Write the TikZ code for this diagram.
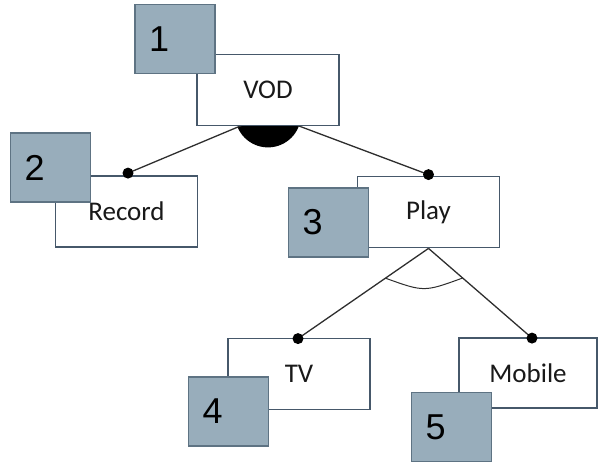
\documentclass[tikz,border=0pt]{standalone}
\usepackage{fontspec}
\setmainfont{Carlito}
\newfontfamily\numfont{Liberation Sans}
\usetikzlibrary{calc}
\pgfdeclarelayer{bg}
\pgfsetlayers{bg,main}
\definecolor{boxedge}{HTML}{46586A}
\definecolor{tagfill}{HTML}{98ADBB}
\definecolor{tagedge}{HTML}{5E7383}
\definecolor{wire}{HTML}{2E2E2E}
\begin{document}
\begin{tikzpicture}[x=1pt,y=-1pt,
  feature/.style={draw=boxedge, line width=1.8pt, fill=white, inner sep=0pt,
    minimum width=142pt, minimum height=71pt, text=black!90,
    font=\fontsize{27}{30}\selectfont},
  tag/.style={draw=tagedge, line width=1.2pt, fill=tagfill, inner sep=0pt,
    minimum width=80pt, minimum height=69pt, text width=52pt, align=left,
    font=\numfont\fontsize{36}{40}\selectfont},
  wireline/.style={draw=wire, line width=1.3pt},
  joint/.style={fill=black, circle, inner sep=0pt, minimum size=11pt}]
\useasboundingbox (0,0) rectangle (598,462);

% feature boxes
\node[feature] (vod)    at (268,90)    {VOD};
\node[feature] (record) at (126.5,211.5) {Record};
\node[feature] (play)   at (428.5,212) {Play};
\node[feature] (tv)     at (299,374)   {TV};
\node[feature, minimum width=138pt, minimum height=70pt] (mobile) at (528,373) {Mobile};

% attachment points
\coordinate (hub)  at ($(vod.south)+(0,-12)$);
\coordinate (rdot) at ($(record.north)+(1.5,-2)$);
\coordinate (pdot) at ($(play.north)+(0,-1)$);
\coordinate (tdot) at ($(tv.north)+(-1,1)$);
\coordinate (mdot) at ($(mobile.north)+(4,1)$);

\begin{pgfonlayer}{bg}
  % mandatory decomposition of VOD
  \begin{scope}
    \clip (hub) -- (rdot) -- (pdot) -- cycle;
    \fill[black] (hub) circle (33pt);
  \end{scope}
  \draw[wireline] (hub) -- (rdot);
  \draw[wireline] (hub) -- (pdot);
  % alternative decomposition of Play
  \draw[wireline] (play.south) -- (tdot);
  \draw[wireline] (play.south) -- (mdot);
  \draw[wireline, line width=1pt]
    ($(play.south)!0.33!(tdot)$) .. controls ($($(play.south)!0.33!(tdot)$)!0.5!($(play.south)!0.33!(mdot)$)+(0,14)$) .. ($(play.south)!0.33!(mdot)$);
\end{pgfonlayer}

\node[joint] (j1) at (rdot) {};
\node[joint] (j2) at (pdot) {};
\node[joint] (j3) at (tdot) {};
\node[joint] (j4) at (mdot) {};

% number tags
\node[tag] (t1) at (175,39)      {1};
\node[tag] (t2) at (50.5,167.5)  {2};
\node[tag] (t3) at (328.5,222.5) {3};
\node[tag] (t4) at (228.5,411.5) {4};
\node[tag] (t5) at (451.5,427)   {5};
\end{tikzpicture}
\end{document}
